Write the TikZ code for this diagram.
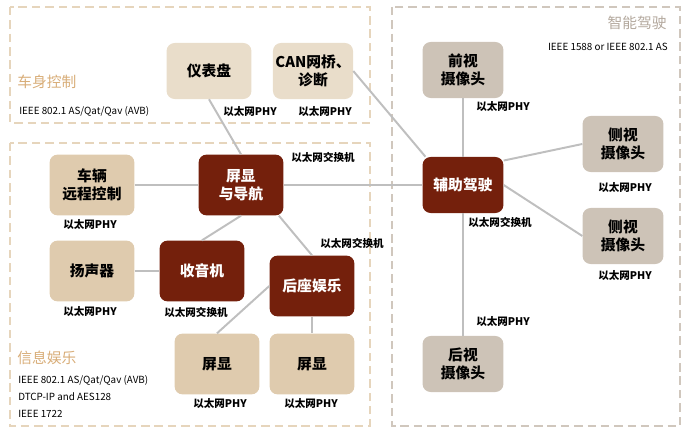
\documentclass[tikz,border=0pt]{standalone}
\usepackage{fontspec}
\setmainfont{Noto Sans CJK SC}

\definecolor{sabbia}{HTML}{E9DDCA}
\definecolor{beige}{HTML}{DFCBAE}
\definecolor{grigio}{HTML}{CDC3B7}
\definecolor{mattone}{HTML}{74200C}
\definecolor{linea}{HTML}{BFBFBF}
\definecolor{bordosx}{HTML}{E6D5BC}
\definecolor{bordodx}{HTML}{D0C7BD}
\definecolor{titolosx}{HTML}{D8AD78}
\definecolor{titolodx}{HTML}{B3A89D}

\begin{document}
\begin{tikzpicture}[x=0.025cm, y=-0.025cm]
	% Stili dei blocchi e delle etichette
	\tikzset{
		blocco/.style={rectangle, rounded corners=0.2cm, minimum width=2.12cm, minimum height=1.52cm, inner sep=0pt, align=center, font=\fontsize{10.5}{12.5}\selectfont\bfseries},
		bloccopic/.style={blocco, minimum width=2.02cm, minimum height=1.4cm},
		chiaro/.style={fill=beige},
		scuro/.style={fill=mattone, text=white},
		zona/.style={line width=2pt, dash pattern=on 6pt off 3.5pt},
		etichetta/.style={inner sep=0pt, font=\fontsize{7.5}{9}\selectfont\bfseries},
		norma/.style={inner sep=0pt, anchor=west, font=\fontsize{7}{9}\selectfont},
		titolo/.style={inner sep=0pt, font=\fontsize{10.5}{12}\selectfont},
		cavo/.style={draw=linea, line width=1.4pt}
	}
	\useasboundingbox (0,0) rectangle (700,440);

	% Zone tratteggiate
	\draw[zona, draw=bordosx] (10,7) rectangle (370,123);
	\draw[zona, draw=bordosx] (10,143) rectangle (370,426);
	\draw[zona, draw=bordodx] (392,7) rectangle (680,426);

	% Carrozzeria
	\node[titolo, text=titolosx, anchor=west] (tcarr) at (17,82) {车身控制};
	\node[norma] (ncarr) at (19,111) {IEEE 802.1 AS/Qat/Qav (AVB)};
	\node[blocco, fill=sabbia, minimum height=1.4cm] (cruscotto) at (209,71) {仪表盘};
	\node[blocco, fill=sabbia, minimum width=2cm, minimum height=1.4cm] (can) at (313,71) {CAN网桥、\\诊断};
	\node[etichetta] (phycru) at (250,112) {以太网PHY};
	\node[etichetta] (phycan) at (325,112) {以太网PHY};

	% Infotainment
	\node[blocco, chiaro] (remoto) at (92,185) {车辆\\远程控制};
	\node[blocco, scuro] (navi) at (241,185) {屏显\\与导航};
	\node[blocco, chiaro] (altop) at (92,271) {扬声器};
	\node[blocco, scuro] (radio) at (202,271) {收音机};
	\node[blocco, scuro] (retro) at (312,286) {后座娱乐};
	\node[blocco, chiaro] (schermoa) at (217,364) {屏显};
	\node[blocco, chiaro] (schermob) at (312,364) {屏显};

	\node[etichetta] (swnavi) at (323,157) {以太网交换机};
	\node[etichetta] (phyrem) at (90,225) {以太网PHY};
	\node[etichetta] (swretro) at (352,243) {以太网交换机};
	\node[etichetta] (phyalt) at (90,312) {以太网PHY};
	\node[etichetta] (swradio) at (196,312) {以太网交换机};
	\node[etichetta] (physca) at (220,404) {以太网PHY};
	\node[etichetta] (physcb) at (311,404) {以太网PHY};

	\node[titolo, text=titolosx, anchor=west] (tinfo) at (17,358) {信息娱乐};
	\node[norma] (ninfoa) at (18,380) {IEEE 802.1 AS/Qat/Qav (AVB)};
	\node[norma] (ninfob) at (18,397) {DTCP-IP and AES128};
	\node[norma] (ninfoc) at (18,414) {IEEE 1722};

	% Guida assistita
	\node[titolo, text=titolodx, anchor=east] (tguida) at (667,23) {智能驾驶};
	\node[norma, anchor=east] (nguida) at (668,47) {IEEE 1588 or IEEE 802.1 AS};
	\node[bloccopic, scuro] (adas) at (463,185) {辅助驾驶};
	\node[bloccopic, fill=grigio] (fronte) at (463,70) {前视\\摄像头};
	\node[bloccopic, fill=grigio] (latoa) at (623,144) {侧视\\摄像头};
	\node[bloccopic, fill=grigio] (latob) at (623,236) {侧视\\摄像头};
	\node[bloccopic, fill=grigio] (dietro) at (463,364) {后视\\摄像头};

	\node[etichetta] (phyfro) at (503,107) {以太网PHY};
	\node[etichetta] (phylta) at (625,188) {以太网PHY};
	\node[etichetta] (swadas) at (500,222) {以太网交换机};
	\node[etichetta] (phyltb) at (625,276) {以太网PHY};
	\node[etichetta] (phydie) at (503,322) {以太网PHY};

	% Collegamenti
	\draw[cavo] (cruscotto.south) -- (navi.north);
	\draw[cavo] (can.east) -- (adas.143);
	\draw[cavo] (remoto.east) -- (navi.west);
	\draw[cavo] (navi.east) -- (adas.west);
	\draw[cavo] (navi.south) -- (radio.north);
	\draw[cavo] (navi.-39) -- (retro.north);
	\draw[cavo] (altop.east) -- (radio.west);
	\draw[cavo] (retro.west) -- (schermoa.north);
	\draw[cavo] (retro.south) -- (schermob.north);
	\draw[cavo] (adas.north) -- (fronte.south);
	\draw[cavo] (adas.31) -- (latoa.west);
	\draw[cavo] (adas.east) -- (latob.west);
	\draw[cavo] (adas.south) -- (dietro.north);
\end{tikzpicture}
\end{document}
